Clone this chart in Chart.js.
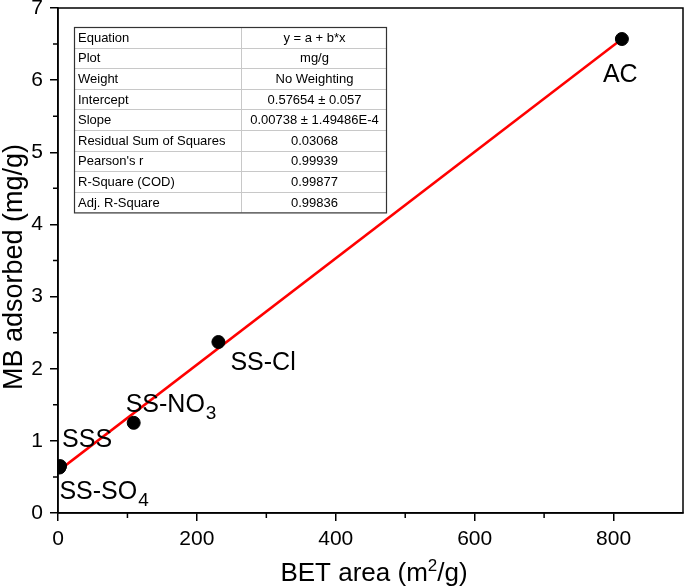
<!DOCTYPE html>
<html>
<head>
<meta charset="utf-8">
<script src="https://cdn.jsdelivr.net/npm/chart.js@4"></script>
<style>
  html, body { margin: 0; padding: 0; background: #fff; }
  #wrap { width: 685px; height: 587px; }
</style>
</head>
<body>
<div id="wrap"><canvas id="chart" width="685" height="587"></canvas></div>
<script>
// sample data
const samples = ['AC', 'SS-Cl', 'SS-NO3', 'SSS', 'SS-SO4'];
const betArea = [812, 231, 109, 3, 2];
const mbAdsorbed = [6.57, 2.37, 1.25, 0.65, 0.63];

// linear fit line end points
const fitX = [0, 812];
const fitY = [0.58, 6.57];

// fit result table
const tableNames = ['Equation', 'Plot', 'Weight', 'Intercept', 'Slope',
  'Residual Sum of Squares', "Pearson's r", 'R-Square (COD)', 'Adj. R-Square'];
const tableValues = ['y = a + b*x', 'mg/g', 'No Weighting', '0.57654 \u00b1 0.057',
  '0.00738 \u00b1 1.49486E-4', '0.03068', '0.99939', '0.99877', '0.99836'];

const xMinorTicks = [100, 300, 500, 700];
const yMinorTicks = [0.5, 1.5, 2.5, 3.5, 4.5, 5.5, 6.5];

// label placement (px offset from the point, text base + subscript)
const labelStyle = {
  'AC':     { dx: -19, dy: 43, text: 'AC', sub: '' },
  'SS-Cl':  { dx: 12, dy: 28, text: 'SS-Cl', sub: '' },
  'SS-NO3': { dx: -8, dy: -11, text: 'SS-NO', sub: '3' },
  'SSS':    { dx: 2, dy: -19, text: 'SSS', sub: '' },
  'SS-SO4': { dx: 0, dy: 31, text: 'SS-SO', sub: '4' }
};

const FONT = 'Liberation Sans, Arial, sans-serif';

const extrasPlugin = {
  id: 'extras',
  afterDraw(chart) {
    const ctx = chart.ctx;
    const a = chart.chartArea;
    const xs = chart.scales.x, ys = chart.scales.y;
    ctx.save();

    // frame
    ctx.strokeStyle = '#000';
    ctx.lineWidth = 1.5;
    ctx.strokeRect(a.left, a.top, a.right - a.left, a.bottom - a.top);

    // minor ticks
    ctx.beginPath();
    xMinorTicks.forEach(v => {
      const px = xs.getPixelForValue(v);
      ctx.moveTo(px, a.bottom); ctx.lineTo(px, a.bottom + 5);
    });
    yMinorTicks.forEach(v => {
      const py = ys.getPixelForValue(v);
      ctx.moveTo(a.left, py); ctx.lineTo(a.left - 5, py);
    });
    ctx.stroke();

    // point labels
    ctx.fillStyle = '#000';
    ctx.textBaseline = 'alphabetic';
    ctx.textAlign = 'left';
    samples.forEach((name, i) => {
      const st = labelStyle[name];
      const px = xs.getPixelForValue(betArea[i]) + st.dx;
      const py = ys.getPixelForValue(mbAdsorbed[i]) + st.dy;
      ctx.font = '25px ' + FONT;
      ctx.fillText(st.text, px, py);
      if (st.sub) {
        const w = ctx.measureText(st.text).width;
        ctx.font = '19px ' + FONT;
        ctx.fillText(st.sub, px + w + 1, py + 7);
      }
    });

    // x axis title with superscript
    ctx.font = '26px ' + FONT;
    const t1 = 'BET area (m', t2 = '2', t3 = '/g)';
    const w1 = ctx.measureText(t1).width, w3 = ctx.measureText(t3).width;
    ctx.font = '17px ' + FONT;
    const w2 = ctx.measureText(t2).width;
    let tx = 374 - (w1 + w2 + w3) / 2;
    const ty = 581;
    ctx.font = '26px ' + FONT;
    ctx.fillText(t1, tx, ty);
    ctx.font = '17px ' + FONT;
    ctx.fillText(t2, tx + w1, ty - 10);
    ctx.font = '26px ' + FONT;
    ctx.fillText(t3, tx + w1 + w2, ty);

    // y axis title
    ctx.save();
    ctx.translate(22, 267);
    ctx.rotate(-Math.PI / 2);
    ctx.textAlign = 'center';
    ctx.font = '27px ' + FONT;
    ctx.fillText('MB adsorbed (mg/g)', 0, 0);
    ctx.restore();

    // fit table
    const tL = 74, tR = 386, tT = 27, rowH = 20.6, colX = 241;
    const tB = tT + rowH * tableNames.length;
    ctx.fillStyle = '#fff';
    ctx.fillRect(tL, tT, tR - tL, tB - tT);
    ctx.strokeStyle = '#c8c8c8';
    ctx.lineWidth = 1;
    ctx.beginPath();
    for (let r = 1; r < tableNames.length; r++) {
      const y = Math.round(tT + r * rowH) + 0.5;
      ctx.moveTo(tL, y); ctx.lineTo(tR, y);
    }
    ctx.moveTo(colX + 0.5, tT); ctx.lineTo(colX + 0.5, tB);
    ctx.stroke();
    ctx.strokeStyle = '#333';
    ctx.lineWidth = 1.2;
    ctx.strokeRect(tL + 0.5, tT + 0.5, tR - tL, tB - tT);
    ctx.fillStyle = '#000';
    ctx.font = '13px ' + FONT;
    ctx.textBaseline = 'middle';
    tableNames.forEach((n, r) => {
      const cy = tT + r * rowH + rowH / 2 + 1;
      ctx.textAlign = 'left';
      ctx.fillText(n, tL + 4, cy);
      ctx.textAlign = 'center';
      ctx.fillText(tableValues[r], (colX + tR) / 2 + 1, cy);
    });

    ctx.restore();
  }
};

new Chart(document.getElementById('chart'), {
  type: 'scatter',
  data: {
    datasets: [
      {
        type: 'line',
        data: fitX.map((x, i) => ({ x: x, y: fitY[i] })),
        borderColor: '#ff0000',
        borderWidth: 2.5,
        pointRadius: 0,
        fill: false,
        order: 2
      },
      {
        data: betArea.map((x, i) => ({ x: x, y: mbAdsorbed[i] })),
        backgroundColor: '#000',
        borderColor: '#000',
        pointRadius: 6.5,
        order: 1
      }
    ]
  },
  options: {
    responsive: false,
    animation: false,
    layout: { autoPadding: false, padding: { top: 8, right: 2, left: 0, bottom: 0 } },
    plugins: { legend: { display: false }, tooltip: { enabled: false } },
    scales: {
      x: {
        type: 'linear',
        min: 0, max: 900,
        afterFit(scale) {
          scale.height = 74;
          scale.paddingLeft = 0; scale.paddingRight = 0;
        },
        ticks: {
          stepSize: 200,
          color: '#000',
          padding: 6,
          maxRotation: 0,
          font: { family: FONT, size: 21 },
          callback: v => (v % 200 === 0 && v <= 800) ? v : ''
        },
        grid: {
          drawOnChartArea: false,
          tickLength: 8,
          // no tick mark at the 900 end, only the frame
          color: c => (c.tick && c.tick.value > 800) ? 'rgba(0,0,0,0)' : '#000',
          lineWidth: 1.5
        },
        border: { color: '#000', width: 1.5 }
      },
      y: {
        min: 0, max: 7,
        afterFit(scale) {
          scale.width = 58;
          scale.paddingTop = 0; scale.paddingBottom = 0;
        },
        ticks: {
          stepSize: 1,
          color: '#000',
          padding: 7,
          font: { family: FONT, size: 21 }
        },
        grid: { drawOnChartArea: false, tickLength: 8, color: '#000', lineWidth: 1.5 },
        border: { color: '#000', width: 1.5 }
      }
    }
  },
  plugins: [extrasPlugin]
});
</script>
</body>
</html>
